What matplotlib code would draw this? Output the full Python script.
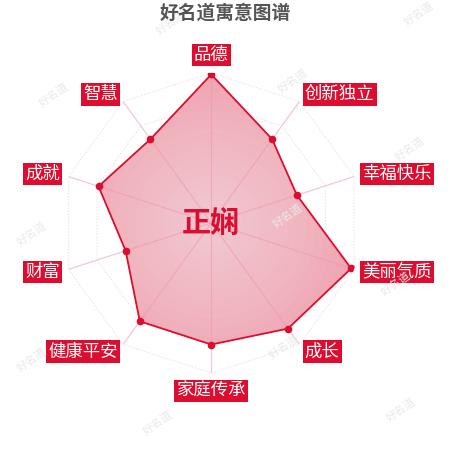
import numpy as np
import matplotlib
matplotlib.use('Agg')
import matplotlib.pyplot as plt

plt.rcParams['font.family'] = ['Noto Sans CJK SC', 'DejaVu Sans']

# chart data, clockwise from the top
dimensions = ['品德', '创新独立', '幸福快乐', '美丽气质', '成长',
              '家庭传承', '健康平安', '财富', '成就', '智慧']
scores = [99, 69, 60, 98, 87, 81, 81, 60, 79, 69]
name = '正娴'
title = '好名道寓意图谱'
watermark = '好名道'

red = '#dc0d2e'

fig = plt.figure(figsize=(4.5, 4.5), dpi=100)
fig.patch.set_facecolor('white')

# faint watermarks in the background
wm_spots = [(0.38, 0.95), (0.93, 0.97), (0.65, 0.82), (0.12, 0.79), (0.91, 0.67),
            (0.07, 0.48), (0.63, 0.23), (0.07, 0.20), (0.35, 0.06), (0.89, 0.09),
            (0.88, 0.37), (0.64, 0.52)]
for wx, wy in wm_spots:
    fig.text(wx, wy, watermark, fontsize=8, color='#e9e9e9', rotation=35,
             ha='center', va='center', zorder=0)

ax = fig.add_axes([0.136, 0.171, 0.667, 0.667], polar=True)
ax.set_theta_offset(np.pi / 2)
ax.set_theta_direction(-1)
ax.set_ylim(0, 100)
ax.set_facecolor('none')
ax.grid(False)
ax.spines['polar'].set_visible(False)
ax.set_xticks([])
ax.set_yticks([])

n = len(dimensions)
angles = np.linspace(0, 2 * np.pi, n, endpoint=False)
closed = np.append(angles, angles[0])

# background rings and spokes
for lvl in [20, 40, 60, 80, 100]:
    ax.plot(closed, [lvl] * (n + 1), color='#ecdadd', lw=0.8, ls=':', zorder=1)
for a in angles:
    ax.plot([a, a], [0, 100], color='#f3c8d0', lw=0.9, zorder=1)

# filled area with a light centre
vals = np.append(scores, scores[0])
poly = ax.fill(closed, vals, color='#ee91a3', alpha=0.85, zorder=2, lw=0)[0]
full = np.linspace(0, 2 * np.pi, 200)
for r in np.linspace(100, 8, 16):
    c = ax.fill_between(full, 0, r, color='white', alpha=0.04, lw=0, zorder=3)
    c.set_clip_path(poly)
for a in angles:
    sp, = ax.plot([a, a], [0, 100], color='#ef9db0', lw=0.8, alpha=0.6, zorder=3)
    sp.set_clip_path(poly)
ax.plot(closed, vals, color=red, lw=1.3, zorder=4)
ax.plot(angles, scores, 'o', color=red, ms=4.5, zorder=5)

# axis names in red boxes
for a, label in zip(angles, dimensions):
    deg = np.degrees(a) % 360
    if deg < 1 or deg > 359:
        ha, va = 'center', 'bottom'
    elif abs(deg - 180) < 1:
        ha, va = 'center', 'top'
    elif deg < 180:
        ha, va = 'left', 'center'
    else:
        ha, va = 'right', 'center'
    ax.text(a, 106, label, ha=ha, va=va, color='white', fontsize=12.5,
            bbox=dict(boxstyle='square,pad=0.13', fc=red, ec='none'), zorder=6)

ax.text(0, 0, name, ha='center', va='center', color=red, fontsize=21,
        fontweight='bold', zorder=6)

fig.text(0.5, 0.972, title, ha='center', va='center', fontsize=13.5,
         fontweight='bold', color='#555555')

fig.savefig('out.png', dpi=100, facecolor='white')
